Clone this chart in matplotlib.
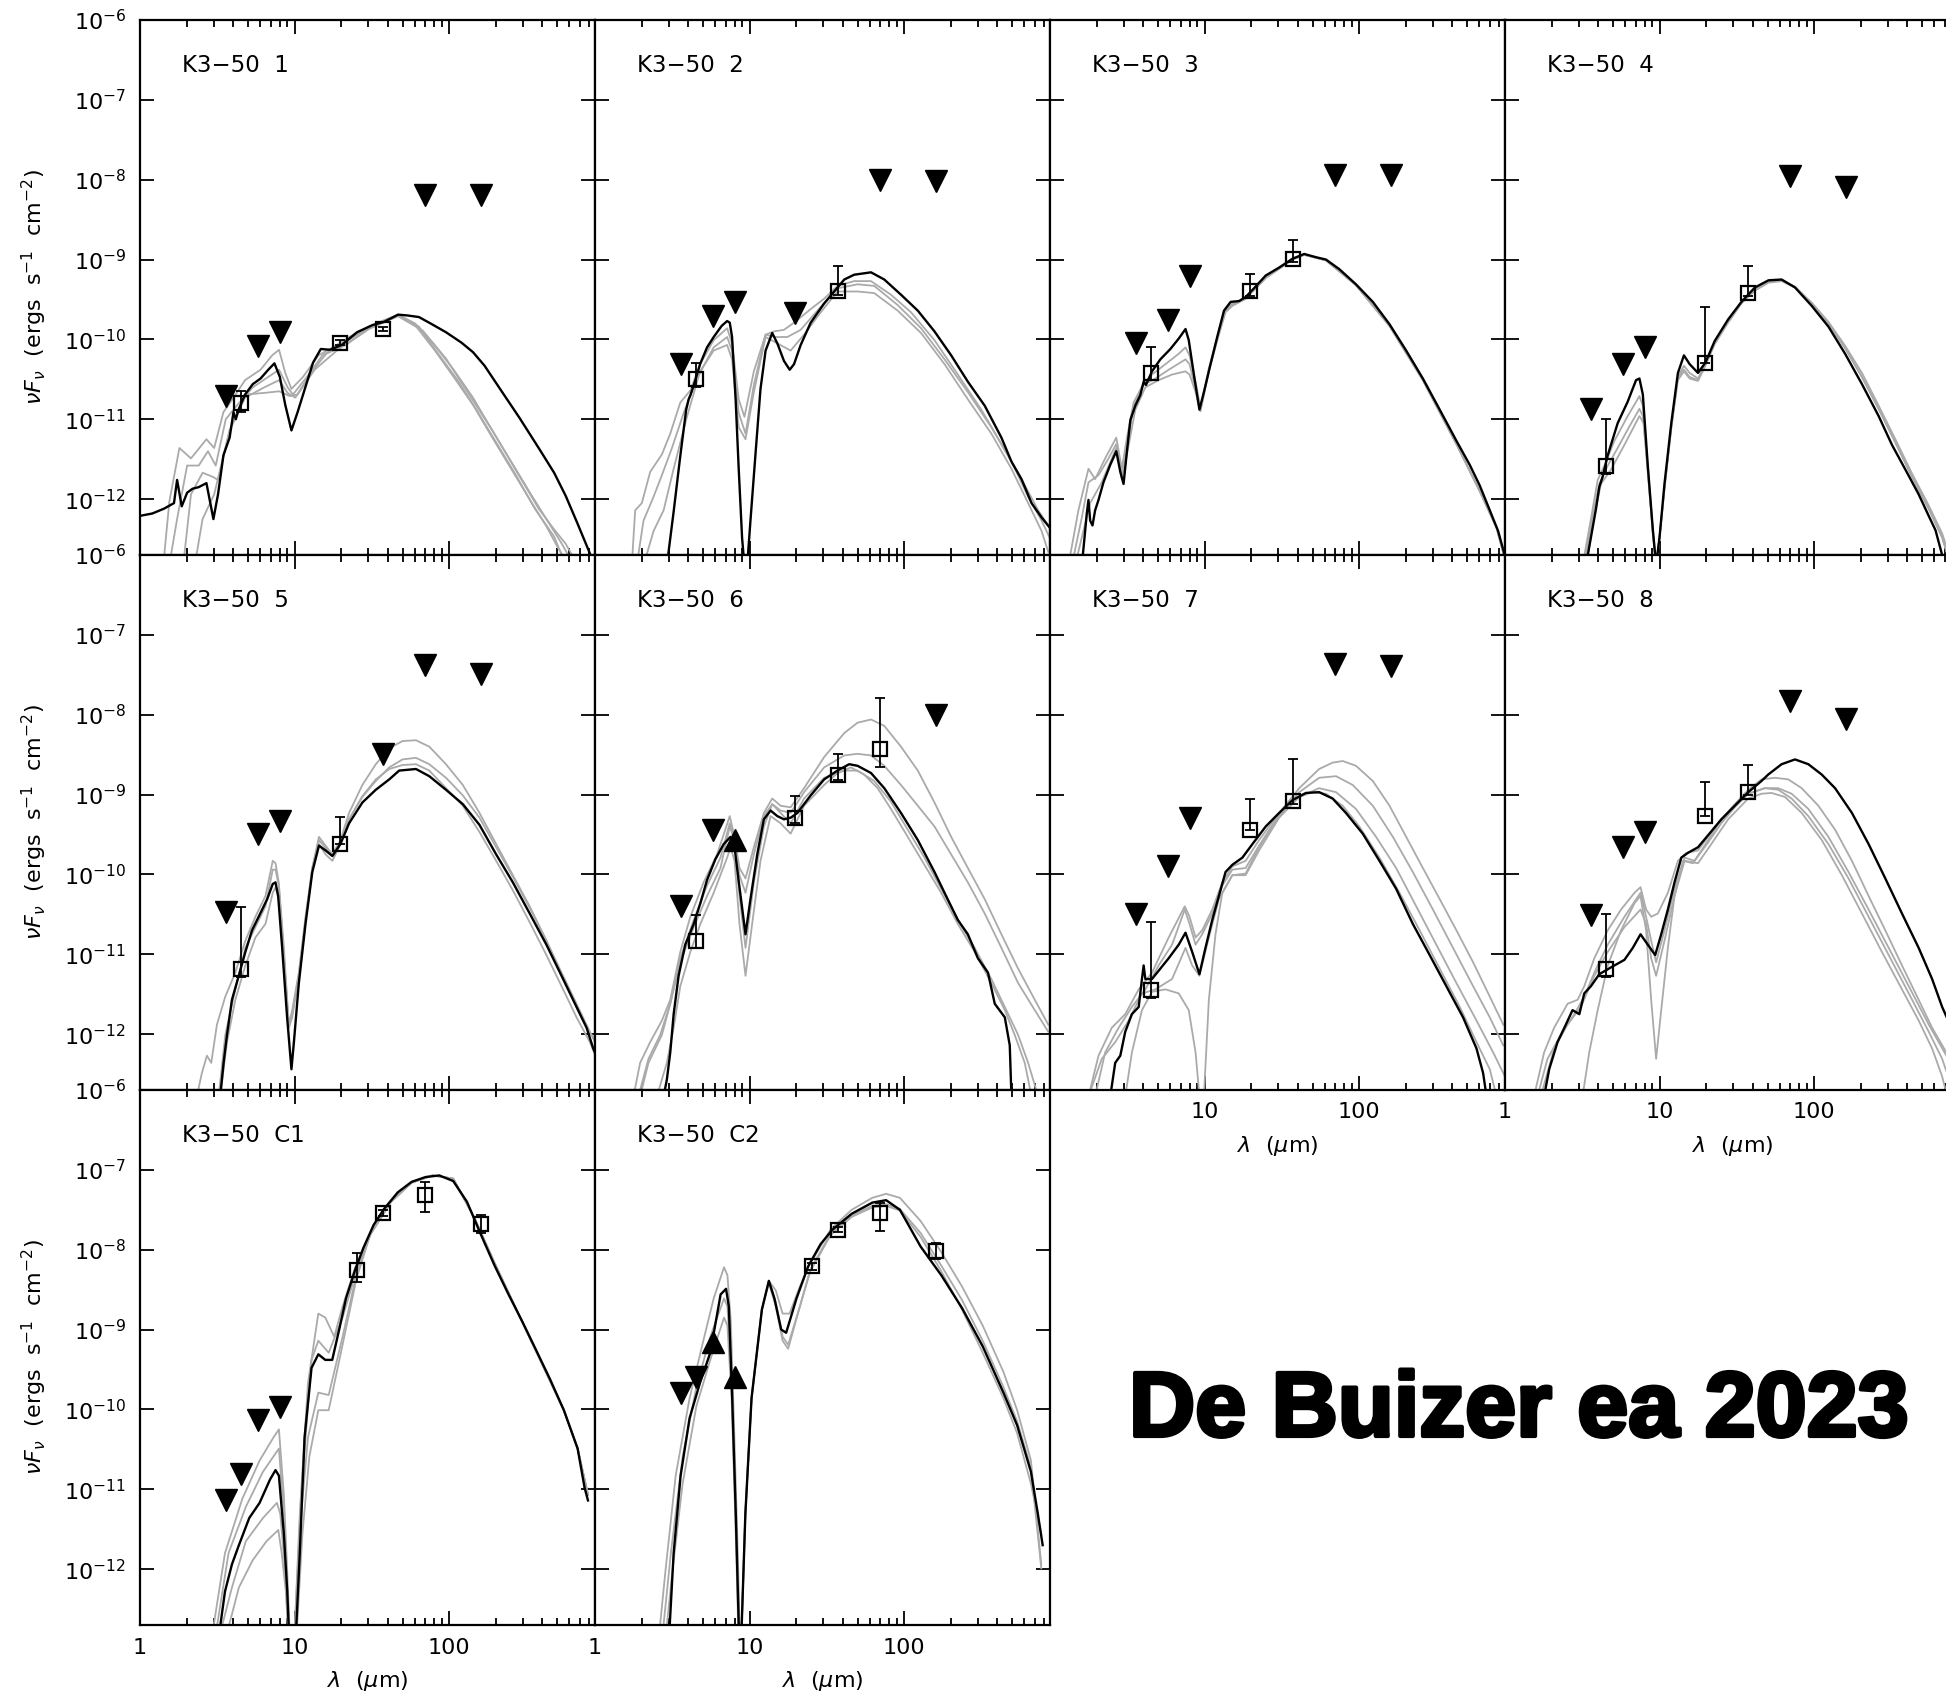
import numpy as np
import matplotlib.pyplot as plt
import matplotlib.patheffects as pe
from matplotlib.ticker import FuncFormatter, LogLocator, NullLocator, NullFormatter

plt.rcParams['font.family'] = 'DejaVu Sans'
plt.rcParams['mathtext.fontset'] = 'dejavusans'

# SED model curves: (log10 lambda [um], log10 nuFnu [erg s-1 cm-2])
# best fit in black, the next-best fits in grey

p1_model = [(0.00,-12.21),(0.08,-12.18),(0.155,-12.12),(0.22,-12.05),(0.24,-11.76),(0.27,-12.09),
            (0.305,-11.92),(0.34,-11.87),(0.38,-11.85),(0.43,-11.80),(0.475,-12.25),(0.505,-11.94),
            (0.54,-11.45),(0.58,-11.23),(0.605,-10.91),(0.62,-11.00),(0.64,-10.87),(0.68,-10.69),
            (0.73,-10.56),(0.78,-10.49),(0.83,-10.38),(0.87,-10.30),(0.905,-10.47),(0.94,-10.82),
            (0.98,-11.14),(1.02,-10.91),(1.07,-10.60),(1.12,-10.29),(1.17,-10.12),(1.23,-10.13),
            (1.305,-10.07),(1.405,-9.91),(1.505,-9.82),(1.58,-9.78),(1.67,-9.69),(1.73,-9.70),
            (1.805,-9.72),(1.88,-9.80),(1.98,-9.91),(2.08,-10.04),(2.155,-10.16),(2.23,-10.33),
            (2.33,-10.62),(2.455,-10.98),(2.58,-11.36),(2.68,-11.67),(2.755,-11.96),(2.83,-12.30),
            (2.905,-12.65),(2.94,-12.82)]
p1_grey_a = [(0.155,-12.74),(0.19,-12.03),(0.255,-11.36),(0.33,-11.49),(0.43,-11.25),(0.48,-11.36),
             (0.54,-10.91),(0.605,-10.73),(0.68,-10.51),(0.78,-10.38),(0.855,-10.20),(0.90,-10.13),
             (0.94,-10.42),(0.98,-10.62),(1.055,-10.47),(1.155,-10.20),(1.255,-10.09),(1.405,-9.91),
             (1.58,-9.76),(1.67,-9.69),(1.78,-9.80),(1.905,-10.07),(2.03,-10.38),(2.155,-10.73),
             (2.28,-11.14),(2.405,-11.54),(2.53,-11.94),(2.63,-12.25),(2.73,-12.56),(2.805,-12.82)]
p1_grey_b = [(0.19,-12.82),(0.24,-12.25),(0.305,-11.58),(0.38,-11.58),(0.44,-11.40),(0.49,-11.58),
             (0.555,-11.00),(0.63,-10.82),(0.73,-10.60),(0.83,-10.47),(0.90,-10.38),(0.955,-10.60),
             (0.99,-10.69),(1.08,-10.47),(1.18,-10.20),(1.28,-10.09),(1.43,-9.91),(1.58,-9.76),
             (1.67,-9.70),(1.78,-9.82),(1.905,-10.13),(2.03,-10.47),(2.155,-10.82),(2.28,-11.23),
             (2.405,-11.63),(2.53,-12.03),(2.63,-12.34),(2.705,-12.61),(2.77,-12.82)]
p1_grey_c = [(0.28,-12.82),(0.33,-11.94),(0.405,-11.67),(0.47,-11.72),(0.505,-11.76),(0.58,-11.14),
             (0.68,-10.73),(0.805,-10.60),(0.90,-10.51),(0.955,-10.67),(1.005,-10.73),(1.105,-10.42),
             (1.205,-10.18),(1.33,-10.07),(1.48,-9.87),(1.67,-9.70),(1.805,-9.84),(1.93,-10.18),
             (2.055,-10.51),(2.18,-10.89),(2.305,-11.29),(2.43,-11.69),(2.555,-12.12),(2.68,-12.47),
             (2.755,-12.82)]
p1_grey_d = [(0.355,-12.82),(0.405,-12.25),(0.48,-11.94),(0.58,-11.14),(0.68,-10.69),(0.805,-10.67),
             (0.90,-10.65),(0.97,-10.71),(1.02,-10.69),(1.13,-10.38),(1.28,-10.13),(1.48,-9.87),
             (1.67,-9.71),(1.83,-9.89),(1.98,-10.24),(2.13,-10.69),(2.28,-11.14),(2.43,-11.63),
             (2.58,-12.12),(2.68,-12.38),(2.755,-12.56),(2.83,-12.82)]

p2_model = [(0.465,-12.83),(0.51,-12.14),(0.55,-11.49),(0.59,-10.88),(0.606,-10.75),(0.617,-10.70),
            (0.64,-10.57),(0.68,-10.31),(0.725,-10.10),(0.768,-9.97),(0.82,-9.83),(0.855,-9.77),
            (0.872,-9.79),(0.887,-9.97),(0.91,-10.75),(0.93,-11.62),(0.952,-12.49),(0.967,-12.83),
            (0.985,-12.83),(1.006,-12.27),(1.04,-11.40),(1.071,-10.62),(1.104,-10.14),(1.147,-9.92),
            (1.18,-10.05),(1.223,-10.27),(1.26,-10.38),(1.288,-10.31),(1.331,-10.07),(1.396,-9.79),
            (1.483,-9.55),(1.548,-9.40),(1.613,-9.25),(1.677,-9.19),(1.786,-9.16),(1.872,-9.25),
            (1.98,-9.44),(2.089,-9.64),(2.197,-9.90),(2.305,-10.20),(2.413,-10.53),(2.522,-10.83),
            (2.63,-11.23),(2.695,-11.53),(2.76,-11.75),(2.825,-12.05),(2.89,-12.23),(2.944,-12.36)]
p2_grey_a = [(0.238,-12.83),(0.26,-12.14),(0.303,-12.05),(0.357,-11.66),(0.433,-11.44),(0.487,-11.18),
             (0.552,-10.79),(0.617,-10.64),(0.68,-10.31),(0.768,-10.01),(0.855,-9.86),(0.887,-10.05),
             (0.93,-10.75),(0.967,-10.97),(1.028,-10.40),(1.104,-9.94),(1.158,-9.90),(1.223,-9.88),
             (1.288,-9.79),(1.396,-9.62),(1.483,-9.49),(1.569,-9.33),(1.677,-9.27),(1.786,-9.27),
             (1.915,-9.44),(2.045,-9.66),(2.197,-10.01),(2.348,-10.44),(2.50,-10.88),(2.63,-11.31),
             (2.76,-11.75),(2.868,-12.14),(2.944,-12.36)]
p2_grey_b = [(0.27,-12.83),(0.314,-12.27),(0.379,-11.97),(0.433,-11.70),(0.498,-11.36),(0.574,-10.92),
             (0.66,-10.49),(0.768,-10.10),(0.855,-9.97),(0.887,-10.14),(0.93,-10.92),(0.974,-11.18),
             (1.028,-10.57),(1.104,-9.94),(1.169,-9.97),(1.245,-9.97),(1.331,-9.88),(1.439,-9.64),
             (1.569,-9.36),(1.70,-9.31),(1.807,-9.33),(1.959,-9.57),(2.11,-9.86),(2.262,-10.25),
             (2.413,-10.66),(2.565,-11.10),(2.695,-11.53),(2.803,-11.97),(2.89,-12.27),(2.944,-12.49)]
p2_grey_c = [(0.314,-12.83),(0.379,-12.40),(0.444,-12.14),(0.509,-11.62),(0.595,-10.97),(0.68,-10.40),
             (0.768,-10.14),(0.855,-10.07),(0.887,-10.25),(0.93,-11.10),(0.974,-11.25),(1.028,-10.66),
             (1.104,-9.97),(1.18,-10.05),(1.266,-10.14),(1.353,-9.94),(1.461,-9.66),(1.569,-9.40),
             (1.70,-9.40),(1.807,-9.42),(1.959,-9.64),(2.11,-9.92),(2.262,-10.31),(2.413,-10.75),
             (2.565,-11.18),(2.695,-11.62),(2.803,-12.05),(2.89,-12.40),(2.933,-12.66)]

p3_model = [(0.206,-12.83),(0.223,-12.49),(0.238,-12.18),(0.249,-12.01),(0.26,-12.27),(0.275,-12.33),
            (0.292,-12.14),(0.314,-12.01),(0.346,-11.79),(0.39,-11.57),(0.429,-11.40),(0.455,-11.66),
            (0.476,-11.81),(0.498,-11.40),(0.52,-11.01),(0.552,-10.83),(0.584,-10.70),(0.606,-10.53),
            (0.621,-10.57),(0.66,-10.40),(0.714,-10.25),(0.779,-10.12),(0.833,-9.99),(0.877,-9.87),
            (0.898,-10.01),(0.935,-10.49),(0.967,-10.88),(0.996,-10.66),(1.039,-10.31),(1.082,-9.97),
            (1.126,-9.64),(1.169,-9.53),(1.223,-9.52),(1.266,-9.47),(1.32,-9.36),(1.396,-9.20),
            (1.483,-9.10),(1.569,-8.99),(1.645,-8.93),(1.72,-8.97),(1.786,-9.00),(1.872,-9.12),
            (1.98,-9.31),(2.089,-9.53),(2.197,-9.81),(2.305,-10.14),(2.413,-10.49),(2.522,-10.88),
            (2.63,-11.27),(2.716,-11.57),(2.781,-11.83),(2.846,-12.14),(2.90,-12.40),(2.955,-12.79)]
p3_grey_a = [(0.119,-12.83),(0.184,-12.14),(0.249,-11.62),(0.292,-11.75),(0.357,-11.49),(0.429,-11.23),
             (0.465,-11.62),(0.498,-11.23),(0.541,-10.79),(0.606,-10.55),(0.66,-10.44),(0.747,-10.31),
             (0.833,-10.18),(0.877,-10.10),(0.903,-10.20),(0.942,-10.53),(0.974,-10.86),(1.028,-10.36),
             (1.093,-9.90),(1.136,-9.62),(1.18,-9.55),(1.266,-9.49),(1.396,-9.23),(1.569,-9.00),
             (1.645,-8.94),(1.786,-9.01),(1.98,-9.32),(2.197,-9.83),(2.413,-10.51),(2.63,-11.31),
             (2.781,-11.90),(2.89,-12.36),(2.955,-12.83)]
p3_grey_b = [(0.141,-12.83),(0.206,-12.23),(0.249,-11.79),(0.314,-11.70),(0.379,-11.49),(0.429,-11.31),
             (0.465,-11.75),(0.498,-11.36),(0.541,-10.83),(0.606,-10.57),(0.682,-10.49),(0.768,-10.38),
             (0.877,-10.25),(0.903,-10.31),(0.942,-10.62),(0.974,-10.88),(1.028,-10.38),(1.093,-9.92),
             (1.136,-9.64),(1.18,-9.57),(1.266,-9.49),(1.396,-9.23),(1.569,-9.00),(1.645,-8.94),
             (1.786,-9.01),(1.98,-9.32),(2.197,-9.83),(2.413,-10.51),(2.63,-11.31),(2.781,-11.90),
             (2.89,-12.36),(2.955,-12.83)]
p3_grey_c = [(0.162,-12.83),(0.227,-12.31),(0.26,-12.05),(0.335,-11.79),(0.429,-11.36),(0.465,-11.70),
             (0.498,-11.44),(0.552,-10.88),(0.617,-10.60),(0.703,-10.51),(0.79,-10.44),(0.877,-10.40),
             (0.903,-10.44),(0.942,-10.66),(0.974,-10.90),(1.028,-10.40),(1.093,-9.94),(1.136,-9.66),
             (1.18,-9.58),(1.266,-9.49),(1.396,-9.23),(1.569,-9.00),(1.645,-8.94),(1.786,-9.01),
             (1.98,-9.32),(2.197,-9.83),(2.413,-10.51),(2.63,-11.31),(2.781,-11.90),(2.89,-12.36),
             (2.955,-12.83)]

p4_model = [(0.524,-12.83),(0.556,-12.48),(0.589,-12.12),(0.61,-11.85),(0.632,-11.72),(0.665,-11.45),
            (0.729,-11.05),(0.794,-10.78),(0.848,-10.51),(0.87,-10.49),(0.892,-10.69),(0.924,-11.58),
            (0.957,-12.39),(0.978,-12.83),(1.0,-12.48),(1.032,-11.81),(1.076,-11.05),(1.119,-10.42),
            (1.158,-10.20),(1.195,-10.31),(1.249,-10.42),(1.297,-10.29),(1.357,-10.02),(1.444,-9.75),
            (1.53,-9.53),(1.617,-9.35),(1.705,-9.26),(1.79,-9.25),(1.877,-9.35),(1.985,-9.58),
            (2.093,-9.84),(2.201,-10.18),(2.31,-10.56),(2.418,-10.96),(2.504,-11.32),(2.591,-11.63),
            (2.677,-11.94),(2.742,-12.21),(2.786,-12.39),(2.829,-12.70)]
p4_grey_a = [(0.502,-12.83),(0.556,-12.25),(0.60,-11.76),(0.643,-11.58),(0.708,-11.27),(0.794,-10.96),
             (0.87,-10.71),(0.892,-10.83),(0.924,-11.58),(0.957,-12.39),(0.978,-12.83),(1.0,-12.48),
             (1.032,-11.85),(1.076,-11.09),(1.119,-10.47),(1.158,-10.33),(1.195,-10.42),(1.249,-10.49),
             (1.297,-10.31),(1.357,-10.04),(1.444,-9.78),(1.53,-9.54),(1.617,-9.38),(1.705,-9.27),
             (1.79,-9.26),(1.877,-9.34),(1.985,-9.55),(2.093,-9.80),(2.201,-10.11),(2.31,-10.47),
             (2.418,-10.87),(2.526,-11.29),(2.634,-11.72),(2.742,-12.12),(2.829,-12.48),(2.872,-12.75)]
p4_grey_b = [(0.513,-12.83),(0.567,-12.21),(0.61,-11.81),(0.665,-11.58),(0.729,-11.36),(0.805,-11.09),
             (0.87,-10.87),(0.892,-10.96),(0.924,-11.63),(0.957,-12.43),(0.978,-12.83),(1.0,-12.48),
             (1.032,-11.85),(1.076,-11.09),(1.119,-10.47),(1.158,-10.38),(1.195,-10.47),(1.249,-10.51),
             (1.297,-10.31),(1.357,-10.04),(1.444,-9.78),(1.53,-9.54),(1.617,-9.38),(1.705,-9.27),
             (1.79,-9.26),(1.877,-9.34),(1.985,-9.55),(2.093,-9.80),(2.201,-10.11),(2.31,-10.47),
             (2.418,-10.87),(2.526,-11.29),(2.634,-11.72),(2.742,-12.12),(2.829,-12.48),(2.872,-12.75)]
p4_grey_c = [(0.524,-12.83),(0.578,-12.21),(0.621,-11.81),(0.686,-11.63),(0.773,-11.32),(0.87,-10.96),
             (0.898,-11.05),(0.924,-11.67),(0.957,-12.43),(0.978,-12.83),(1.0,-12.48),(1.032,-11.88),
             (1.076,-11.12),(1.119,-10.51),(1.158,-10.40),(1.195,-10.49),(1.249,-10.52),(1.297,-10.33),
             (1.357,-10.06),(1.444,-9.79),(1.53,-9.55),(1.617,-9.39),(1.705,-9.29),(1.79,-9.27),
             (1.877,-9.35),(1.985,-9.54),(2.093,-9.78),(2.201,-10.08),(2.31,-10.42),(2.418,-10.83),
             (2.526,-11.25),(2.634,-11.68),(2.742,-12.08),(2.829,-12.43),(2.883,-12.75)]

p5_model = [(0.519,-12.78),(0.541,-12.36),(0.563,-12.01),(0.595,-11.57),(0.639,-11.27),(0.682,-10.97),
            (0.725,-10.70),(0.768,-10.53),(0.823,-10.31),(0.859,-10.12),(0.877,-10.10),(0.894,-10.27),
            (0.92,-10.92),(0.952,-11.79),(0.98,-12.44),(0.996,-12.10),(1.028,-11.36),(1.071,-10.62),
            (1.115,-9.97),(1.158,-9.64),(1.201,-9.70),(1.245,-9.77),(1.297,-9.62),(1.353,-9.36),
            (1.439,-9.10),(1.526,-8.94),(1.613,-8.81),(1.677,-8.70),(1.786,-8.68),(1.872,-8.77),
            (1.98,-8.94),(2.089,-9.12),(2.197,-9.38),(2.305,-9.75),(2.413,-10.10),(2.522,-10.49),
            (2.63,-10.88),(2.738,-11.31),(2.825,-11.66),(2.89,-11.92),(2.933,-12.18),(2.955,-12.27)]
p5_grey_a = [(0.368,-12.78),(0.40,-12.49),(0.433,-12.27),(0.461,-12.36),(0.498,-11.88),(0.552,-11.53),
             (0.617,-11.23),(0.682,-10.83),(0.747,-10.53),(0.812,-10.27),(0.859,-9.83),(0.877,-9.86),
             (0.898,-10.10),(0.931,-10.92),(0.963,-11.88),(0.985,-11.70),(1.028,-11.23),(1.071,-10.53),
             (1.115,-9.92),(1.158,-9.53),(1.201,-9.64),(1.245,-9.75),(1.297,-9.57),(1.353,-9.23),
             (1.439,-8.88),(1.526,-8.62),(1.613,-8.42),(1.699,-8.33),(1.786,-8.32),(1.872,-8.40),
             (1.98,-8.62),(2.089,-8.88),(2.197,-9.23),(2.305,-9.62),(2.413,-10.01),(2.522,-10.40),
             (2.63,-10.83),(2.738,-11.31),(2.825,-11.66),(2.89,-11.92),(2.955,-12.10)]
p5_grey_b = [(0.509,-12.78),(0.552,-12.01),(0.617,-11.44),(0.682,-10.92),(0.747,-10.66),(0.812,-10.40),
             (0.859,-9.94),(0.877,-9.94),(0.898,-10.14),(0.931,-11.01),(0.963,-11.92),(0.985,-11.79),
             (1.028,-11.27),(1.071,-10.57),(1.115,-9.92),(1.158,-9.57),(1.201,-9.67),(1.245,-9.77),
             (1.297,-9.60),(1.353,-9.31),(1.439,-9.03),(1.526,-8.83),(1.613,-8.66),(1.699,-8.56),
             (1.786,-8.54),(1.872,-8.62),(1.98,-8.79),(2.089,-9.01),(2.197,-9.29),(2.305,-9.66),
             (2.413,-10.03),(2.522,-10.42),(2.63,-10.83),(2.738,-11.27),(2.825,-11.62),(2.911,-11.97),
             (2.955,-12.14)]
p5_grey_c = [(0.519,-12.78),(0.563,-12.10),(0.617,-11.57),(0.682,-11.14),(0.747,-10.79),(0.812,-10.62),
             (0.859,-10.23),(0.877,-10.16),(0.898,-10.31),(0.931,-11.05),(0.963,-11.92),(0.985,-11.75),
             (1.028,-11.27),(1.071,-10.60),(1.115,-9.95),(1.158,-9.62),(1.201,-9.75),(1.245,-9.83),
             (1.297,-9.62),(1.353,-9.31),(1.439,-9.02),(1.526,-8.81),(1.613,-8.68),(1.699,-8.63),
             (1.786,-8.62),(1.872,-8.70),(1.98,-8.92),(2.089,-9.14),(2.197,-9.47),(2.305,-9.83),
             (2.413,-10.20),(2.522,-10.60),(2.63,-11.01),(2.738,-11.44),(2.825,-11.79),(2.911,-12.10),
             (2.955,-12.31)]

p6_model = [(0.444,-12.78),(0.465,-12.57),(0.487,-12.23),(0.509,-11.75),(0.541,-11.27),(0.584,-10.88),
            (0.639,-10.62),(0.682,-10.36),(0.725,-10.07),(0.779,-9.81),(0.833,-9.62),(0.877,-9.53),
            (0.903,-9.66),(0.931,-10.10),(0.974,-10.75),(1.006,-10.31),(1.05,-9.75),(1.093,-9.31),
            (1.136,-9.20),(1.18,-9.27),(1.223,-9.31),(1.266,-9.29),(1.31,-9.23),(1.396,-9.01),
            (1.483,-8.81),(1.569,-8.70),(1.645,-8.62),(1.699,-8.64),(1.786,-8.73),(1.872,-8.92),
            (1.98,-9.23),(2.089,-9.57),(2.197,-9.97),(2.262,-10.23),(2.305,-10.40),(2.348,-10.57),
            (2.413,-10.75),(2.478,-11.05),(2.543,-11.23),(2.587,-11.62),(2.652,-11.79),(2.684,-12.14),
            (2.695,-12.78)]
p6_grey_a = [(0.249,-12.78),(0.292,-12.36),(0.357,-12.10),(0.433,-11.83),(0.487,-11.57),(0.552,-10.97),
             (0.617,-10.53),(0.703,-10.10),(0.79,-9.75),(0.872,-9.27),(0.903,-9.53),(0.935,-9.92),
             (0.974,-10.05),(1.028,-9.66),(1.093,-9.23),(1.147,-9.05),(1.201,-9.14),(1.266,-9.16),
             (1.353,-8.92),(1.483,-8.53),(1.613,-8.23),(1.699,-8.10),(1.786,-8.06),(1.872,-8.14),
             (1.98,-8.40),(2.089,-8.70),(2.197,-9.10),(2.305,-9.53),(2.413,-9.92),(2.522,-10.31),
             (2.63,-10.75),(2.738,-11.18),(2.846,-11.57),(2.933,-11.88)]
p6_grey_b = [(0.281,-12.78),(0.346,-12.31),(0.422,-12.01),(0.487,-11.62),(0.552,-11.05),(0.639,-10.57),
             (0.725,-10.14),(0.812,-9.79),(0.872,-9.36),(0.903,-9.57),(0.935,-10.01),(0.974,-10.23),
             (1.028,-9.75),(1.093,-9.27),(1.147,-9.12),(1.201,-9.20),(1.266,-9.23),(1.353,-8.97),
             (1.483,-8.66),(1.613,-8.51),(1.699,-8.49),(1.786,-8.51),(1.872,-8.64),(1.98,-8.88),
             (2.089,-9.14),(2.197,-9.40),(2.305,-9.75),(2.413,-10.10),(2.522,-10.49),(2.63,-10.92),
             (2.738,-11.36),(2.846,-11.70),(2.933,-11.97)]
p6_grey_c = [(0.40,-12.78),(0.465,-12.36),(0.509,-11.92),(0.552,-11.40),(0.617,-10.97),(0.682,-10.62),
             (0.768,-10.23),(0.855,-9.79),(0.877,-9.66),(0.903,-9.83),(0.935,-10.62),(0.974,-11.27),
             (1.017,-10.62),(1.071,-9.83),(1.136,-9.27),(1.201,-9.36),(1.266,-9.49),(1.353,-9.14),
             (1.483,-8.88),(1.569,-8.73),(1.656,-8.66),(1.742,-8.75),(1.829,-8.92),(1.915,-9.18),
             (2.024,-9.53),(2.132,-9.88),(2.24,-10.23),(2.348,-10.62),(2.457,-10.97),(2.565,-11.36),
             (2.652,-11.70),(2.716,-12.01),(2.781,-12.36),(2.825,-12.78)]
p6_grey_d = [(0.292,-12.78),(0.346,-12.36),(0.433,-12.01),(0.487,-11.62),(0.552,-11.10),(0.639,-10.66),
             (0.725,-10.27),(0.812,-9.92),(0.872,-9.40),(0.903,-9.57),(0.935,-10.27),(0.974,-10.92),
             (1.028,-10.10),(1.093,-9.40),(1.147,-9.12),(1.201,-9.23),(1.266,-9.36),(1.353,-9.05),
             (1.483,-8.79),(1.613,-8.70),(1.699,-8.70),(1.807,-8.83),(1.915,-9.09),(2.024,-9.44),
             (2.132,-9.79),(2.24,-10.18),(2.348,-10.57),(2.457,-10.92),(2.565,-11.31),(2.652,-11.66),
             (2.738,-12.01),(2.803,-12.36),(2.868,-12.78)]

p7_model = [(0.39,-12.78),(0.422,-12.36),(0.455,-12.27),(0.487,-11.97),(0.53,-11.75),(0.574,-11.66),
            (0.595,-11.31),(0.606,-11.14),(0.617,-11.31),(0.66,-11.31),(0.714,-11.18),(0.768,-11.05),
            (0.833,-10.88),(0.877,-10.73),(0.92,-10.97),(0.967,-11.25),(1.006,-10.92),(1.05,-10.57),
            (1.093,-10.27),(1.136,-9.97),(1.18,-9.88),(1.245,-9.79),(1.31,-9.62),(1.396,-9.40),
            (1.483,-9.23),(1.569,-9.07),(1.656,-8.98),(1.742,-8.97),(1.829,-9.05),(1.915,-9.23),
            (2.024,-9.49),(2.132,-9.83),(2.24,-10.18),(2.348,-10.62),(2.457,-11.01),(2.565,-11.40),
            (2.673,-11.79),(2.76,-12.18),(2.803,-12.49),(2.825,-12.78)]
p7_grey_a = [(0.249,-12.78),(0.314,-12.27),(0.40,-11.92),(0.487,-11.75),(0.574,-11.44),(0.66,-11.23),
             (0.768,-10.79),(0.872,-10.40),(0.903,-10.53),(0.942,-10.79),(0.985,-10.70),(1.05,-10.44),
             (1.115,-10.10),(1.18,-9.90),(1.266,-9.83),(1.353,-9.57),(1.483,-9.23),(1.613,-8.92),
             (1.742,-8.68),(1.829,-8.60),(1.894,-8.58),(1.98,-8.64),(2.089,-8.83),(2.197,-9.14),
             (2.305,-9.53),(2.413,-9.92),(2.522,-10.31),(2.63,-10.70),(2.738,-11.10),(2.846,-11.53),
             (2.933,-11.88)]
p7_grey_b = [(0.292,-12.78),(0.357,-12.23),(0.444,-11.92),(0.53,-11.66),(0.617,-11.44),(0.703,-11.14),
             (0.79,-10.88),(0.872,-10.44),(0.903,-10.62),(0.942,-10.88),(0.985,-10.75),(1.05,-10.49),
             (1.115,-10.14),(1.18,-9.94),(1.266,-9.92),(1.353,-9.64),(1.483,-9.25),(1.613,-8.97),
             (1.742,-8.79),(1.851,-8.77),(1.959,-8.88),(2.089,-9.14),(2.219,-9.53),(2.348,-9.97),
             (2.478,-10.44),(2.608,-10.92),(2.738,-11.40),(2.846,-11.79),(2.933,-12.14)]
p7_grey_c = [(0.487,-12.78),(0.53,-12.23),(0.595,-11.70),(0.66,-11.47),(0.747,-11.44),(0.833,-11.49),
             (0.898,-11.70),(0.942,-12.23),(0.967,-12.78),(0.996,-12.78),(1.028,-11.57),(1.071,-10.75),
             (1.115,-10.23),(1.18,-10.01),(1.266,-9.99),(1.353,-9.66),(1.483,-9.27),(1.613,-9.03),
             (1.742,-8.92),(1.851,-8.97),(1.98,-9.18),(2.11,-9.53),(2.24,-9.92),(2.37,-10.40),
             (2.50,-10.88),(2.63,-11.36),(2.76,-11.83),(2.868,-12.23),(2.944,-12.53)]
p7_grey_d = [(0.249,-12.78),(0.335,-12.31),(0.422,-12.10),(0.509,-11.83),(0.595,-11.49),(0.682,-11.44),
             (0.79,-11.31),(0.877,-10.92),(0.92,-11.14),(0.967,-11.27),(1.028,-10.79),(1.093,-10.31),
             (1.18,-10.01),(1.266,-10.01),(1.353,-9.70),(1.483,-9.29),(1.613,-9.03),(1.699,-8.97),
             (1.786,-8.99),(1.894,-9.14),(2.002,-9.40),(2.132,-9.79),(2.262,-10.23),(2.392,-10.70),
             (2.522,-11.18),(2.652,-11.66),(2.76,-12.10),(2.846,-12.44),(2.89,-12.78)]

p8_model = [(0.253,-12.78),(0.286,-12.44),(0.34,-12.10),(0.394,-11.88),(0.437,-11.70),(0.481,-11.75),
            (0.513,-11.49),(0.556,-11.40),(0.61,-11.25),(0.654,-11.20),(0.708,-11.14),(0.773,-11.07),
            (0.827,-10.92),(0.877,-10.75),(0.924,-10.88),(0.972,-11.01),(1.011,-10.75),(1.054,-10.44),
            (1.097,-10.10),(1.141,-9.79),(1.184,-9.73),(1.249,-9.66),(1.314,-9.51),(1.40,-9.31),
            (1.487,-9.14),(1.574,-8.97),(1.66,-8.83),(1.703,-8.75),(1.79,-8.62),(1.877,-8.56),
            (1.963,-8.62),(2.05,-8.75),(2.136,-8.92),(2.245,-9.23),(2.353,-9.62),(2.461,-10.05),
            (2.569,-10.49),(2.677,-10.92),(2.764,-11.31),(2.829,-11.66),(2.868,-11.83)]
p8_grey_a = [(0.188,-12.78),(0.253,-12.23),(0.318,-11.92),(0.405,-11.62),(0.47,-11.57),(0.513,-11.40),
             (0.578,-11.05),(0.665,-10.70),(0.751,-10.44),(0.838,-10.23),(0.877,-10.16),(0.913,-10.44),
             (0.946,-10.53),(0.989,-10.49),(1.054,-10.23),(1.119,-9.83),(1.173,-9.73),(1.249,-9.70),
             (1.314,-9.53),(1.40,-9.31),(1.487,-9.12),(1.574,-8.94),(1.66,-8.81),(1.747,-8.79),
             (1.833,-8.81),(1.92,-8.92),(2.028,-9.14),(2.136,-9.44),(2.245,-9.83),(2.353,-10.27),
             (2.461,-10.70),(2.569,-11.14),(2.677,-11.57),(2.764,-11.92),(2.868,-12.27)]
p8_grey_b = [(0.21,-12.78),(0.275,-12.31),(0.361,-12.01),(0.448,-11.75),(0.513,-11.53),(0.578,-11.23),
             (0.665,-10.88),(0.773,-10.53),(0.877,-10.23),(0.913,-10.53),(0.946,-10.83),(0.978,-11.10),
             (1.032,-10.70),(1.097,-10.18),(1.162,-9.79),(1.227,-9.83),(1.314,-9.60),(1.40,-9.36),
             (1.487,-9.16),(1.574,-8.99),(1.682,-8.92),(1.768,-8.92),(1.855,-8.99),(1.963,-9.18),
             (2.093,-9.53),(2.223,-9.97),(2.353,-10.44),(2.483,-10.92),(2.613,-11.40),(2.742,-11.88),
             (2.868,-12.31)]
p8_grey_c = [(0.502,-12.78),(0.545,-12.23),(0.60,-11.70),(0.665,-11.14),(0.751,-10.70),(0.838,-10.36),
             (0.877,-10.27),(0.913,-10.70),(0.946,-11.57),(0.978,-12.31),(1.011,-11.70),(1.054,-10.92),
             (1.097,-10.27),(1.152,-9.83),(1.216,-9.86),(1.292,-9.64),(1.379,-9.38),(1.487,-9.14),
             (1.574,-8.99),(1.682,-8.92),(1.768,-8.94),(1.855,-9.05),(1.963,-9.27),(2.093,-9.62),
             (2.223,-10.05),(2.353,-10.53),(2.483,-11.01),(2.613,-11.49),(2.742,-11.97),(2.829,-12.31),
             (2.868,-12.53)]
p8_grey_d = [(0.232,-12.78),(0.318,-12.18),(0.405,-11.88),(0.491,-11.66),(0.578,-11.27),(0.665,-10.97),
             (0.773,-10.66),(0.877,-10.44),(0.913,-10.62),(0.946,-11.05),(0.978,-11.27),(1.032,-10.83),
             (1.097,-10.27),(1.162,-9.83),(1.249,-9.86),(1.335,-9.62),(1.444,-9.31),(1.574,-9.05),
             (1.66,-8.99),(1.725,-8.98),(1.812,-9.03),(1.92,-9.23),(2.05,-9.57),(2.18,-10.01),
             (2.31,-10.49),(2.439,-10.97),(2.569,-11.44),(2.677,-11.83),(2.764,-12.18),(2.829,-12.53),
             (2.861,-12.78)]

c1_model = [(0.506,-12.90),(0.55,-12.28),(0.595,-11.94),(0.64,-11.70),(0.707,-11.36),(0.774,-11.17),
            (0.841,-10.88),(0.877,-10.76),(0.899,-10.83),(0.931,-11.56),(0.953,-12.28),(0.966,-12.90),
            (1.007,-12.90),(1.034,-11.80),(1.065,-10.35),(1.11,-9.48),(1.154,-9.31),(1.199,-9.38),
            (1.244,-9.38),(1.289,-9.00),(1.333,-8.61),(1.391,-8.26),(1.445,-7.98),(1.512,-7.69),
            (1.579,-7.49),(1.669,-7.28),(1.758,-7.15),(1.848,-7.09),(1.937,-7.07),(2.027,-7.14),
            (2.116,-7.40),(2.206,-7.81),(2.295,-8.20),(2.385,-8.56),(2.474,-8.90),(2.564,-9.26),
            (2.653,-9.62),(2.743,-10.01),(2.832,-10.49),(2.877,-10.98),(2.899,-11.14)]
c1_grey_a = [(0.461,-12.90),(0.55,-11.80),(0.662,-11.12),(0.774,-10.64),(0.864,-10.35),(0.899,-10.25),
             (0.931,-11.07),(0.953,-12.04),(0.971,-12.90),(0.998,-12.90),(1.034,-11.31),(1.087,-9.67),
             (1.154,-8.80),(1.199,-8.85),(1.257,-9.09),(1.311,-8.71),(1.391,-8.23),(1.49,-7.81),
             (1.624,-7.40),(1.758,-7.16),(1.893,-7.07),(2.027,-7.11),(2.161,-7.59),(2.295,-8.17),
             (2.519,-9.09),(2.743,-10.01),(2.832,-10.49),(2.899,-11.07)]
c1_grey_b = [(0.483,-12.90),(0.573,-11.80),(0.685,-11.22),(0.796,-10.78),(0.899,-10.49),(0.931,-11.31),
             (0.962,-12.90),(0.998,-12.90),(1.043,-11.07),(1.11,-9.38),(1.154,-9.14),(1.221,-9.29),
             (1.311,-8.85),(1.40,-8.27),(1.49,-7.81),(1.624,-7.40),(1.758,-7.16),(1.893,-7.07),
             (2.027,-7.11),(2.161,-7.59),(2.295,-8.17),(2.519,-9.09),(2.743,-10.01),(2.832,-10.49),
             (2.899,-11.07)]
c1_grey_c = [(0.506,-12.90),(0.595,-12.23),(0.685,-11.65),(0.796,-11.36),(0.886,-11.17),(0.908,-11.31),
             (0.94,-12.04),(0.962,-12.90),(1.007,-12.90),(1.043,-11.31),(1.087,-10.35),(1.154,-9.79),
             (1.221,-9.82),(1.311,-9.09),(1.40,-8.32),(1.49,-7.81),(1.624,-7.40),(1.758,-7.16),
             (1.893,-7.07),(2.027,-7.11),(2.161,-7.59),(2.295,-8.17),(2.519,-9.09),(2.743,-10.01),
             (2.832,-10.49),(2.899,-11.07)]
c1_grey_d = [(0.55,-12.90),(0.64,-12.23),(0.729,-11.89),(0.819,-11.65),(0.895,-11.51),(0.917,-11.80),
             (0.944,-12.28),(0.962,-12.90),(1.011,-12.90),(1.051,-11.56),(1.096,-10.59),(1.154,-10.01),
             (1.221,-10.01),(1.311,-9.19),(1.40,-8.37),(1.49,-7.81),(1.624,-7.40),(1.758,-7.16),
             (1.893,-7.07),(2.027,-7.11),(2.161,-7.59),(2.295,-8.17),(2.519,-9.09),(2.743,-10.01),
             (2.832,-10.49),(2.899,-11.07)]

c2_model = [(0.478,-12.90),(0.509,-11.80),(0.554,-10.83),(0.612,-10.11),(0.679,-9.67),(0.746,-9.29),
            (0.813,-8.56),(0.848,-8.49),(0.866,-8.71),(0.888,-9.86),(0.911,-11.31),(0.933,-12.90),
            (0.946,-12.90),(0.973,-11.31),(1.013,-9.86),(1.08,-8.75),(1.125,-8.39),(1.161,-8.61),
            (1.205,-9.00),(1.237,-9.04),(1.304,-8.61),(1.379,-8.21),(1.46,-7.93),(1.536,-7.75),
            (1.661,-7.55),(1.795,-7.41),(1.884,-7.38),(1.973,-7.50),(2.107,-7.96),(2.241,-8.32),
            (2.375,-8.73),(2.509,-9.21),(2.643,-9.79),(2.732,-10.20),(2.821,-10.78),(2.866,-11.31),
            (2.897,-11.70)]
c2_grey_a = [(0.411,-12.90),(0.455,-12.04),(0.522,-10.83),(0.612,-9.86),(0.701,-9.14),(0.768,-8.61),
             (0.835,-8.22),(0.857,-8.32),(0.879,-8.90),(0.902,-10.35),(0.924,-11.80),(0.938,-12.90),
             (0.946,-12.90),(0.973,-11.31),(1.013,-9.86),(1.08,-8.75),(1.125,-8.39),(1.17,-8.51),
             (1.214,-8.80),(1.259,-8.80),(1.326,-8.46),(1.393,-8.17),(1.527,-7.74),(1.661,-7.50),
             (1.795,-7.35),(1.884,-7.30),(1.973,-7.35),(2.107,-7.64),(2.241,-8.03),(2.375,-8.46),
             (2.509,-8.95),(2.643,-9.53),(2.732,-10.01),(2.821,-10.64),(2.888,-11.94)]
c2_grey_b = [(0.433,-12.90),(0.491,-11.80),(0.567,-10.59),(0.656,-9.72),(0.746,-9.09),(0.835,-8.61),
             (0.857,-8.71),(0.884,-9.62),(0.911,-11.31),(0.933,-12.90),(0.946,-12.90),(0.973,-11.31),
             (1.013,-9.86),(1.08,-8.75),(1.125,-8.39),(1.17,-8.66),(1.214,-9.09),(1.25,-9.19),
             (1.326,-8.71),(1.393,-8.27),(1.527,-7.81),(1.661,-7.59),(1.795,-7.47),(1.884,-7.45),
             (1.973,-7.51),(2.107,-7.84),(2.241,-8.27),(2.375,-8.75),(2.509,-9.29),(2.643,-9.86),
             (2.732,-10.30),(2.821,-10.93),(2.888,-11.56)]
c2_grey_c = [(0.455,-12.90),(0.50,-12.04),(0.567,-10.93),(0.656,-9.96),(0.746,-9.38),(0.835,-8.85),
             (0.857,-8.95),(0.884,-9.86),(0.911,-11.56),(0.929,-12.90),(0.946,-12.90),(0.973,-11.31),
             (1.013,-9.86),(1.08,-8.75),(1.125,-8.42),(1.17,-8.71),(1.214,-9.14),(1.25,-9.24),
             (1.326,-8.71),(1.393,-8.25),(1.527,-7.79),(1.661,-7.57),(1.795,-7.45),(1.884,-7.43),
             (1.973,-7.49),(2.107,-7.79),(2.241,-8.20),(2.375,-8.63),(2.509,-9.14),(2.643,-9.72),
             (2.732,-10.15),(2.821,-10.73),(2.888,-11.99)]

# photometry: (lambda um, log F, log F upper error, log F lower error)
p1_det = [(4.5,-10.80,-10.64,-10.91),(19.7,-10.04,-10.01,-10.07),(37.1,-9.87,-9.84,-9.90)]
p2_det = [(4.5,-10.50,-10.29,-10.60),(37.1,-9.39,-9.08,-9.45)]
p3_det = [(4.5,-10.42,-10.10,-10.51),(19.7,-9.40,-9.18,-9.46),(37.1,-8.99,-8.76,-9.03)]
p4_det = [(4.5,-11.59,-11.00,-11.69),(19.7,-10.30,-9.60,-10.30),(37.1,-9.42,-9.08,-9.46)]
p5_det = [(4.5,-11.18,-10.41,-11.29),(19.7,-9.62,-9.28,-9.62)]
p6_det = [(4.5,-10.83,-10.51,-10.92),(19.7,-9.29,-9.02,-9.36),(37.1,-8.75,-8.49,-8.82),
          (70.0,-8.43,-7.79,-8.66)]
p7_det = [(4.5,-11.45,-10.60,-11.55),(19.7,-9.45,-9.05,-9.45),(37.1,-9.08,-8.56,-9.12)]
p8_det = [(4.5,-11.19,-10.49,-11.29),(19.7,-9.27,-8.84,-9.27),(37.1,-8.97,-8.63,-9.00)]
c1_det = [(25.3,-8.26,-8.04,-8.40),(37.1,-7.54,-7.50,-7.58),(70.0,-7.31,-7.15,-7.53),
          (160.0,-7.68,-7.56,-7.79)]
c2_det = [(25.3,-8.21,-8.17,-8.25),(37.1,-7.75,-7.72,-7.78),(70.0,-7.54,-7.41,-7.76),
          (160.0,-8.02,-7.91,-8.12)]

# upper limits (lambda um, log F)
p1_upper = [(3.6,-10.71),(5.8,-10.08),(8.0,-9.91),(70.0,-8.19),(160.0,-8.19)]
p2_upper = [(3.6,-10.31),(5.8,-9.71),(8.0,-9.53),(19.7,-9.67),(70.0,-8.00),(160.0,-8.02)]
p3_upper = [(3.6,-10.05),(5.8,-9.76),(8.0,-9.20),(70.0,-7.94),(160.0,-7.94)]
p4_upper = [(3.6,-10.87),(5.8,-10.31),(8.0,-10.09),(70.0,-7.95),(160.0,-8.09)]
p5_upper = [(3.6,-10.47),(5.8,-9.49),(8.0,-9.33),(37.1,-8.49),(70.0,-7.38),(160.0,-7.49)]
p6_upper = [(3.6,-10.40),(5.8,-9.44),(160.0,-8.01)]
p7_upper = [(3.6,-10.49),(5.8,-9.90),(8.0,-9.29),(70.0,-7.36),(160.0,-7.39)]
p8_upper = [(3.6,-10.51),(5.8,-9.66),(8.0,-9.47),(70.0,-7.83),(160.0,-8.05)]
c1_upper = [(3.6,-11.14),(4.5,-10.81),(5.8,-10.13),(8.0,-9.97)]
c2_upper = [(3.6,-9.79),(4.5,-9.60)]

# lower limits
p6_lower = [(8.0,-9.57)]
c2_lower = [(5.8,-9.16),(8.0,-9.60)]

names = ['K3\u221250  1', 'K3\u221250  2', 'K3\u221250  3', 'K3\u221250  4',
         'K3\u221250  5', 'K3\u221250  6', 'K3\u221250  7', 'K3\u221250  8',
         'K3\u221250  C1', 'K3\u221250  C2']

panels = [
    dict(row=0, col=0, model=p1_model, greys=[p1_grey_a, p1_grey_b, p1_grey_c, p1_grey_d],
         det=p1_det, upper=p1_upper, lower=[]),
    dict(row=0, col=1, model=p2_model, greys=[p2_grey_a, p2_grey_b, p2_grey_c],
         det=p2_det, upper=p2_upper, lower=[]),
    dict(row=0, col=2, model=p3_model, greys=[p3_grey_a, p3_grey_b, p3_grey_c],
         det=p3_det, upper=p3_upper, lower=[]),
    dict(row=0, col=3, model=p4_model, greys=[p4_grey_a, p4_grey_b, p4_grey_c],
         det=p4_det, upper=p4_upper, lower=[]),
    dict(row=1, col=0, model=p5_model, greys=[p5_grey_a, p5_grey_b, p5_grey_c],
         det=p5_det, upper=p5_upper, lower=[]),
    dict(row=1, col=1, model=p6_model, greys=[p6_grey_a, p6_grey_b, p6_grey_c, p6_grey_d],
         det=p6_det, upper=p6_upper, lower=p6_lower),
    dict(row=1, col=2, model=p7_model, greys=[p7_grey_a, p7_grey_b, p7_grey_c, p7_grey_d],
         det=p7_det, upper=p7_upper, lower=[]),
    dict(row=1, col=3, model=p8_model, greys=[p8_grey_a, p8_grey_b, p8_grey_c, p8_grey_d],
         det=p8_det, upper=p8_upper, lower=[]),
    dict(row=2, col=0, model=c1_model, greys=[c1_grey_a, c1_grey_b, c1_grey_c, c1_grey_d],
         det=c1_det, upper=c1_upper, lower=[]),
    dict(row=2, col=1, model=c2_model, greys=[c2_grey_a, c2_grey_b, c2_grey_c],
         det=c2_det, upper=c2_upper, lower=c2_lower),
]

# panels that carry wavelength labels underneath
xlabelled = {(2, 0), (2, 1), (1, 2), (1, 3)}

W, H = 1946, 1696
fig = plt.figure(figsize=(W / 100, H / 100), dpi=100)

x0, pw = 140, 455
y0, ph = 20, 535
grey = '#aaaaaa'


def draw_curve(ax, pts, **kw):
    a = np.array(pts)
    ax.plot(10 ** a[:, 0], 10 ** a[:, 1], **kw)


for name, p in zip(names, panels):
    r, c = p['row'], p['col']
    ax = fig.add_axes([(x0 + c * pw) / W, 1 - (y0 + (r + 1) * ph) / H, pw / W, ph / H])
    ax.set_xscale('log')
    ax.set_yscale('log')

    for g in p['greys']:
        draw_curve(ax, g, color=grey, lw=1.3, zorder=2)
    draw_curve(ax, p['model'], color='black', lw=1.7, zorder=3)

    if p['det']:
        d = np.array(p['det'])
        f = 10 ** d[:, 1]
        yerr = [f - 10 ** d[:, 3], 10 ** d[:, 2] - f]
        ax.errorbar(d[:, 0], f, yerr=yerr, fmt='none', ecolor='black', elinewidth=1.3,
                    capsize=3.5, capthick=1.3, zorder=4)
        ax.plot(d[:, 0], f, 's', ms=10, mfc='none', mec='black', mew=1.6, zorder=5)
    if p['upper']:
        u = np.array(p['upper'])
        ax.plot(u[:, 0], 10 ** u[:, 1], 'v', ms=15.5, color='black', zorder=5)
    if p['lower']:
        l = np.array(p['lower'])
        ax.plot(l[:, 0], 10 ** l[:, 1], '^', ms=15.5, color='black', zorder=5)

    ax.set_xlim(1, 880)
    ax.set_ylim(10 ** -12.7, 1e-6)
    ax.yaxis.set_major_locator(LogLocator(base=10, numticks=20))
    ax.yaxis.set_minor_locator(NullLocator())
    ax.xaxis.set_minor_formatter(NullFormatter())
    ax.tick_params(which='both', direction='in', top=True, right=True, width=1.3,
                   labelsize=16, colors='black')
    ax.tick_params(which='major', length=10)
    ax.tick_params(which='minor', length=5)
    ax.tick_params(axis='y', pad=10)
    ax.tick_params(axis='x', pad=9)
    for s in ax.spines.values():
        s.set_linewidth(1.6)

    ax.text(0.092, 0.915, name, transform=ax.transAxes, fontsize=16.5, va='center')

    if c == 0:
        ax.set_ylabel(r'$\nu F_\nu$  (ergs  s$^{-1}$  cm$^{-2}$)', fontsize=16)
        ax.yaxis.set_label_coords(-0.2, 0.5)
    else:
        ax.tick_params(axis='y', labelleft=False)

    if (r, c) in xlabelled:
        hide_one = (r, c) == (1, 2)
        ax.xaxis.set_major_formatter(
            FuncFormatter(lambda v, pos, h=hide_one: '' if (h and v < 2) else '%g' % v))
        ax.set_xlabel(r'$\lambda$  ($\mu$m)', fontsize=16)
        ax.xaxis.set_label_coords(0.5, -0.083)
    else:
        ax.tick_params(axis='x', labelbottom=False)

fig.text(1129 / W, 1 - 1436 / H, 'De Buizer ea 2023', fontsize=66, fontweight='bold',
         family='Liberation Sans', va='baseline', ha='left',
         path_effects=[pe.withStroke(linewidth=3, foreground='black')])

fig.savefig('out.png', dpi=100)
